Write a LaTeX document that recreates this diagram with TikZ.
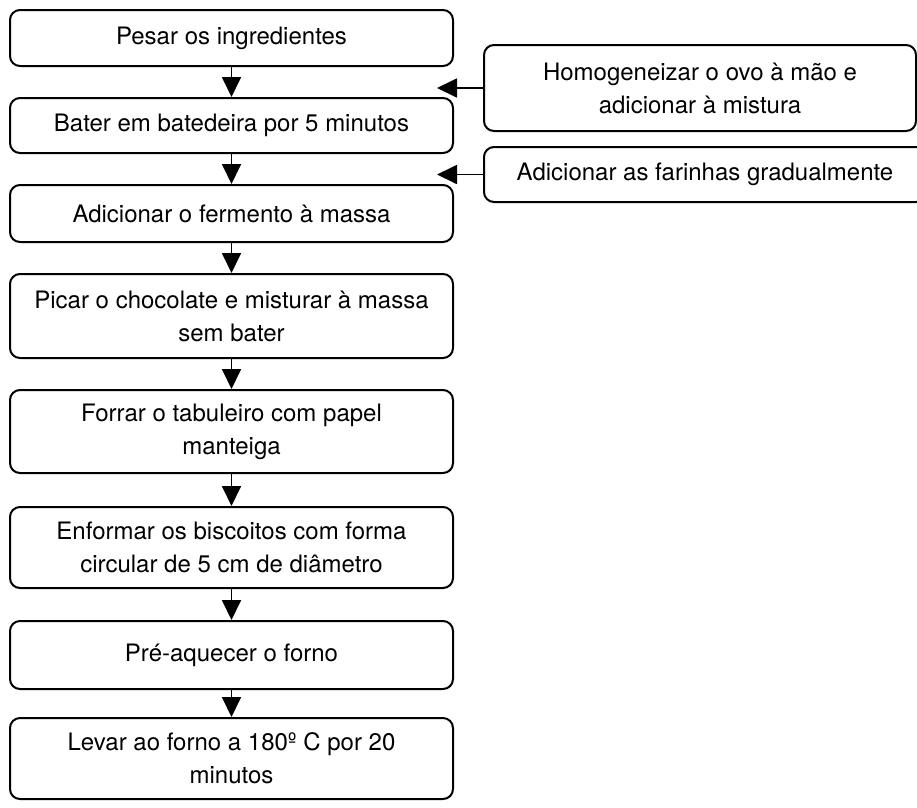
\documentclass[tikz,border=0pt]{standalone}
\usepackage{fontspec}
\setmainfont{TeX Gyre Heros}
\usetikzlibrary{arrows.meta}
\begin{document}
\begin{tikzpicture}[x=1pt,y=-1pt,
  stepbox/.style={draw=black,line width=2pt,rounded corners=10pt,align=center,inner sep=0pt,
    font=\fontsize{24}{33}\selectfont},
  flow/.style={line width=1.8pt,-{Triangle[length=20pt,width=19pt]}}]
\useasboundingbox (0,0) rectangle (917,807);
\node[stepbox,minimum width=443pt,minimum height=56pt] (b1) at (231.5,38) {Pesar os ingredientes};
\node[stepbox,minimum width=443pt,minimum height=55pt] (b2) at (231.5,125.5) {Bater em batedeira por 5 minutos};
\node[stepbox,minimum width=443pt,minimum height=57pt] (b3) at (231.5,213.5) {Adicionar o fermento à massa};
\node[stepbox,minimum width=443pt,minimum height=84pt] (b4) at (231.5,316) {Picar o chocolate e misturar à massa\\sem bater};
\node[stepbox,minimum width=443pt,minimum height=83pt] (b5) at (231.5,431.5) {Forrar o tabuleiro com papel\\manteiga};
\node[stepbox,minimum width=443pt,minimum height=81pt] (b6) at (231.5,547.5) {Enformar os biscoitos com forma\\circular de 5 cm de diâmetro};
\node[stepbox,minimum width=443pt,minimum height=68pt] (b7) at (231.5,655) {Pré-aquecer o forno};
\node[stepbox,minimum width=443pt,minimum height=81pt] (b8) at (231.5,758.5) {Levar ao forno a 180º C por 20\\minutos};
\node[stepbox,minimum width=432pt,minimum height=86pt] (r1) at (700,88) {Homogeneizar o ovo à mão e\\adicionar à mistura};
\node[stepbox,minimum width=442pt,minimum height=55pt] (r2) at (705,174.5) {Adicionar as farinhas gradualmente};
\coordinate (t1) at (437,88);
\coordinate (t2) at (437,174.5);
\draw[flow] (b1) -- (b2);
\draw[flow] (b2) -- (b3);
\draw[flow] (b3) -- (b4);
\draw[flow] (b4) -- (b5);
\draw[flow] (b5) -- (b6);
\draw[flow] (b6) -- (b7);
\draw[flow] (b7) -- (b8);
\draw[flow] (r1) -- (t1);
\draw[flow] (r2) -- (t2);
\end{tikzpicture}
\end{document}
